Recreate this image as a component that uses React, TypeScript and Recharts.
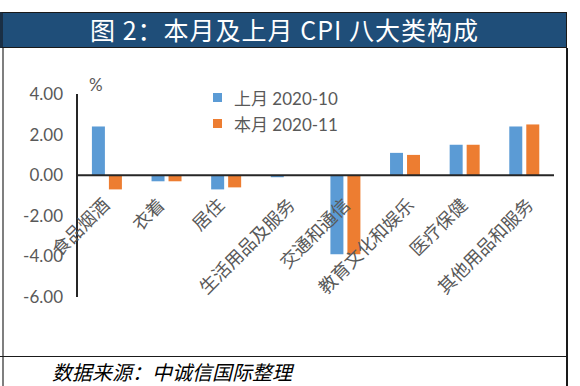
import React from 'react';
import { BarChart, Bar, XAxis, YAxis, ReferenceLine } from 'recharts';

const categories = ['食品烟酒', '衣着', '居住', '生活用品及服务', '交通和通信', '教育文化和娱乐', '医疗保健', '其他用品和服务'];
const lastMonth = [2.4, -0.3, -0.7, -0.1, -3.9, 1.1, 1.5, 2.4];
const thisMonth = [-0.7, -0.3, -0.6, 0.0, -3.9, 1.0, 1.5, 2.5];
const yTicks = [-6, -4, -2, 0, 2, 4];
const seriesNames = ['上月 2020-10', '本月 2020-11'];
const colors = ['#5b9bd5', '#ed7d31'];

const data = categories.map((c, i) => ({ name: c, last: lastMonth[i], cur: thisMonth[i] }));

const W = 580;
const H = 386;
const X_AXIS_H = 30;
const M = { top: 94, right: 26, bottom: 89 - X_AXIS_H, left: 0 };
const Y_AXIS_W = 77;
const YMIN = -6;
const YMAX = 4;
const PLOT_H = H - M.top - M.bottom - X_AXIS_H;
const ZERO_Y = M.top + (PLOT_H * (YMAX - 0)) / (YMAX - YMIN);

const CJK = "'Noto Sans CJK SC', sans-serif";
const NUM = "Lato, 'Noto Sans CJK SC', sans-serif";

const CatTick = (props: any) => {
  const { x, payload } = props;
  const n = String(payload.value).length;
  const shift = 2.2 * n - 5;
  return (
    <g transform={`translate(${x + shift},${ZERO_Y + 31})`}>
      <text
        x={0}
        y={0}
        textAnchor="end"
        transform="rotate(-45)"
        fill="#595959"
        fontSize={18}
        fontFamily={CJK}
      >
        {payload.value}
      </text>
    </g>
  );
};

const LegendBox = () => (
  <div style={{ position: 'absolute', left: 213, top: 84, fontFamily: NUM, fontSize: 17, color: '#595959' }}>
    {seriesNames.map((n, i) => (
      <div key={n} style={{ display: 'flex', alignItems: 'center', height: 26 }}>
        <span style={{ display: 'inline-block', width: 9, height: 9, background: colors[i], marginRight: 12 }} />
        <span style={{ whiteSpace: 'nowrap' }}>{n}</span>
      </div>
    ))}
  </div>
);

export default function App() {
  return (
    <div style={{ position: 'absolute', left: 0, top: 0, width: W, height: H, background: '#fff', overflow: 'hidden' }}>
      <div
        style={{
          position: 'absolute',
          left: 0,
          top: 12,
          width: 567,
          height: 36,
          boxSizing: 'border-box',
          background: '#1f4e79',
          borderTop: '1.5px solid #1a1a1a',
          borderBottom: '1.5px solid #1a1a1a',
          borderLeft: '3px solid #1a2f45',
          borderRight: '1.5px solid #1a1a1a',
          color: '#fff',
          fontFamily: CJK,
          fontSize: 25,
          letterSpacing: 1,
          lineHeight: '33px',
          textAlign: 'center',
          whiteSpace: 'nowrap',
        }}
      >
        图 2：本月及上月 CPI 八大类构成
      </div>
      <div style={{ position: 'absolute', left: 2, top: 48, width: 2, height: H - 48, background: '#7f7f7f' }} />
      <div style={{ position: 'absolute', left: 566, top: 48, width: 2, height: H - 48, background: '#1a1a1a' }} />
      <div style={{ position: 'absolute', left: 0, top: 356, width: 567, height: 1, background: '#1a1a1a' }} />
      <div
        style={{
          position: 'absolute',
          left: 52,
          top: 360,
          fontFamily: CJK,
          fontStyle: 'italic',
          fontSize: 20,
          lineHeight: '24px',
          color: '#000',
          whiteSpace: 'nowrap',
        }}
      >
        数据来源：中诚信国际整理
      </div>
      <div style={{ position: 'absolute', left: 0, top: 0 }}>
        <BarChart width={W} height={H} data={data} margin={M} barCategoryGap="25%" barGap={4}>
          <XAxis dataKey="name" axisLine={false} tickLine={false} tick={<CatTick />} interval={0} height={X_AXIS_H} />
          <YAxis
            domain={[YMIN, YMAX]}
            ticks={yTicks}
            width={Y_AXIS_W}
            tickFormatter={(v: number) => v.toFixed(2)}
            tick={{ fill: '#595959', fontSize: 17, fontFamily: NUM }}
            axisLine={{ stroke: '#262626', strokeWidth: 2 }}
            tickLine={false}
            tickSize={6}
            tickMargin={8}
            allowDataOverflow
          />
          <ReferenceLine y={0} stroke="#262626" strokeWidth={2} />
          <Bar dataKey="last" name={seriesNames[0]} fill={colors[0]} isAnimationActive={false} />
          <Bar dataKey="cur" name={seriesNames[1]} fill={colors[1]} isAnimationActive={false} />
        </BarChart>
      </div>
      <LegendBox />
      <div style={{ position: 'absolute', left: 89, top: 74, fontFamily: NUM, fontSize: 17, color: '#595959' }}>%</div>
    </div>
  );
}
